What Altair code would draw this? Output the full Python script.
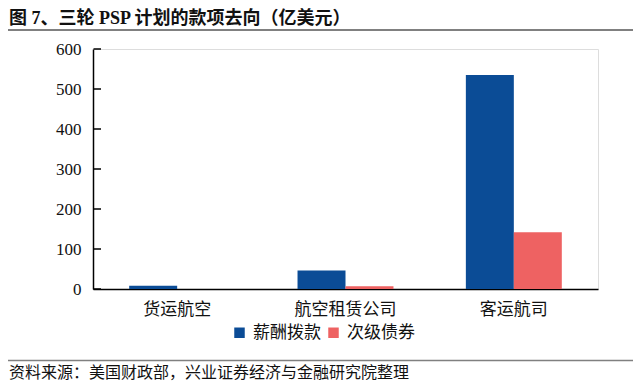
import altair as alt
import pandas as pd

categories = ["货运航空", "航空租赁公司", "客运航司"]
series = ["薪酬拨款", "次级债券"]
payroll = [8, 46, 535]
subordinated = [0, 7, 142]
y_ticks = [0, 100, 200, 300, 400, 500, 600]
colors = ["#0B4C96", "#EE6262"]
title_text = "图 7、三轮 PSP 计划的款项去向（亿美元）"
source_text = "资料来源：美国财政部，兴业证券经济与金融研究院整理"

rows = []
for c, p, s in zip(categories, payroll, subordinated):
    rows.append({"cat": c, "series": series[0], "value": p})
    rows.append({"cat": c, "series": series[1], "value": s})
df = pd.DataFrame(rows)

W, H = 505, 240
PL, PT, PR, PB = 85, 41, 35, 94
FONT = "Liberation Serif, Noto Sans CJK SC"
CJK = "Noto Sans CJK SC"
TICK = 8

y_axis = alt.Axis(
    values=y_ticks, tickCount=7, grid=False, title=None,
    labelOverlap=False, domainColor="black", domainWidth=1.5,
    ticks=False, labelFont="Liberation Serif", labelFontSize=17,
    labelColor="#111111", labelPadding=12,
)
y_scale = alt.Scale(domain=[0, 600], nice=False)

bars = alt.Chart(df).mark_bar().encode(
    x=alt.X(
        "cat:N",
        sort=categories,
        scale=alt.Scale(paddingInner=0.43, paddingOuter=0.215),
        axis=alt.Axis(
            title=None, labelAngle=0, ticks=False, domainColor="black",
            domainWidth=1.5, labelFont=CJK, labelFontSize=17,
            labelColor="#111111", labelPadding=12,
        ),
    ),
    xOffset=alt.XOffset("series:N", sort=series),
    y=alt.Y("value:Q", scale=y_scale, axis=y_axis),
    color=alt.Color(
        "series:N",
        sort=series,
        scale=alt.Scale(domain=series, range=colors),
        legend=alt.Legend(
            title=None, orient="none", legendX=138, legendY=275,
            direction="horizontal", symbolType="square", symbolSize=110,
            symbolStrokeWidth=0, labelFont=CJK, labelFontSize=17,
            labelColor="#111111", columnPadding=4, labelOffset=5,
        ),
    ),
)

tick_df = pd.DataFrame({"tickval": y_ticks})
ticks = alt.Chart(tick_df).mark_rule(
    color="black", strokeWidth=1.5
).encode(
    y=alt.Y("tickval:Q", scale=y_scale, axis=y_axis),
    x=alt.value(0.5),
    x2=alt.value(TICK),
)

title = alt.Chart(pd.DataFrame({"t": [title_text]})).mark_text(
    align="left", baseline="middle", fontSize=18, fontWeight="bold",
    font=FONT, color="#111111",
).encode(x=alt.value(-PL + 1), y=alt.value(18.5 - 49), text="t:N")

title_line = alt.Chart(pd.DataFrame({"t": [0]})).mark_rule(
    color="#808080", strokeWidth=2
).encode(x=alt.value(-PL), x2=alt.value(W + PR), y=alt.value(30 - 49))

foot_line = alt.Chart(pd.DataFrame({"t": [0]})).mark_rule(
    color="#808080", strokeWidth=1.5
).encode(x=alt.value(-PL), x2=alt.value(W + PR), y=alt.value(360.5 - 49))

footer = alt.Chart(pd.DataFrame({"t": [source_text]})).mark_text(
    align="left", baseline="middle", fontSize=16, font=CJK, color="#111111",
).encode(x=alt.value(-PL + 1), y=alt.value(372.5 - 49), text="t:N")

chart = alt.layer(bars, ticks, title, title_line, foot_line, footer).properties(
    width=W,
    height=H,
    autosize=alt.AutoSizeParams(type="none"),
    padding={"left": PL, "top": PT, "right": PR, "bottom": PB},
).configure_view(stroke=None).configure(background="white")

chart.save("out.html", embed_options={"renderer": "svg", "actions": False})
